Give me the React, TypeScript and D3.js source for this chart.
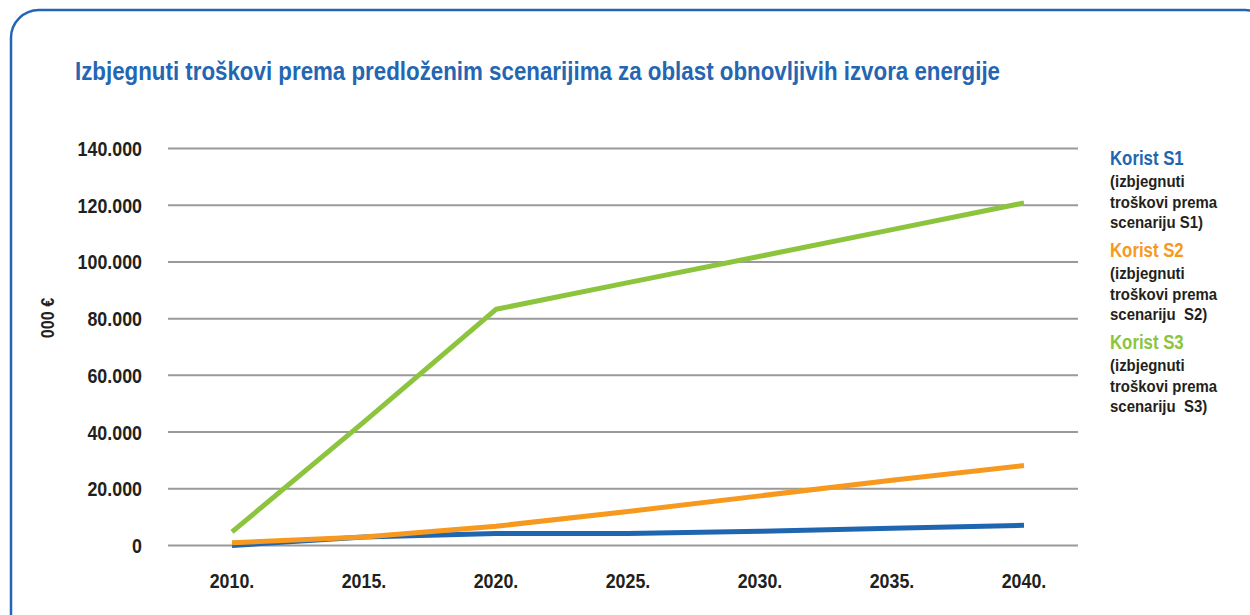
import React, { useEffect, useRef } from "react";
import * as d3 from "d3";

const years = [2010, 2015, 2020, 2025, 2030, 2035, 2040];
const yTicks = [0, 20000, 40000, 60000, 80000, 100000, 120000, 140000];

// 000 € po godinama
const koristS1 = [0, 3000, 4200, 4200, 5000, 6100, 7100];
const koristS2 = [1000, 3000, 6800, 12000, 17500, 23000, 28200];
const koristS3 = [4800, 43600, 83300, 92700, 102000, 111400, 120800];

const seriesNames = ["Korist S1", "Korist S2", "Korist S3"];
const seriesNotes = [
  ["(izbjegnuti", "troškovi prema", "scenariju S1)"],
  ["(izbjegnuti", "troškovi prema", "scenariju  S2)"],
  ["(izbjegnuti", "troškovi prema", "scenariju  S3)"],
];
const colors = ["#1f66b1", "#f7991f", "#8cc43e"];

const FONT = "'Liberation Sans', Arial, sans-serif";
const DARK = "#231f20";

// nema uskog fonta, pa tekst stisnemo po x
function narrowText(parent: any, x: number, y: number, str: string, size: number, sx: number, anchor: string, fill: string) {
  return parent
    .append("text")
    .attr("transform", `translate(${x}, ${y}) scale(${sx}, 1)`)
    .attr("text-anchor", anchor)
    .text(str)
    .style("white-space", "pre")
    .style("font-family", FONT)
    .style("font-weight", "bold")
    .style("font-size", `${size}px`)
    .attr("fill", fill);
}

export default function App() {
  const ref = useRef<SVGSVGElement>(null);

  useEffect(() => {
    const width = 1250;
    const height = 615;
    const svg = d3.select(ref.current).attr("width", width).attr("height", height);
    svg.selectAll("*").remove();

    // okvir
    svg
      .append("rect")
      .attr("x", 11)
      .attr("y", 10)
      .attr("width", 1262)
      .attr("height", 640)
      .attr("rx", 28)
      .attr("fill", "white")
      .attr("stroke", "#2466b2")
      .attr("stroke-width", 2.5);

    svg
      .append("text")
      .attr("x", 75)
      .attr("y", 80)
      .attr("textLength", 925)
      .attr("lengthAdjust", "spacingAndGlyphs")
      .text("Izbjegnuti troškovi prema predloženim scenarijima za oblast obnovljivih izvora energije")
      .style("font-family", FONT)
      .style("font-weight", "bold")
      .style("font-size", "25px")
      .attr("fill", "#2466b2");

    const x = d3.scaleLinear().domain([2010, 2040]).range([232, 1024]);
    const y = d3.scaleLinear().domain([0, 140000]).range([545.5, 148.5]);

    const fmt = d3.formatLocale({ decimal: ",", thousands: ".", grouping: [3], currency: ["", "€"] }).format(",d");

    svg
      .append("g")
      .selectAll("line")
      .data(yTicks)
      .join("line")
      .attr("x1", 168)
      .attr("x2", 1078)
      .attr("y1", (d) => y(d))
      .attr("y2", (d) => y(d))
      .attr("stroke", "#9a9a9c")
      .attr("stroke-width", 2);

    const yAxis = svg.append("g");
    yTicks.forEach((t) => narrowText(yAxis, 142, y(t) + 7.5, fmt(t), 21, 0.85, "end", DARK));

    const xAxis = svg.append("g");
    years.forEach((yr) => narrowText(xAxis, x(yr), 588, `${yr}.`, 21, 0.85, "middle", DARK));

    svg
      .append("text")
      .attr("transform", `translate(54, 318) rotate(-90) scale(0.9, 1)`)
      .attr("text-anchor", "middle")
      .text("000 €")
      .style("font-family", FONT)
      .style("font-weight", "bold")
      .style("font-size", "18px")
      .attr("fill", DARK);

    const line = d3
      .line<number>()
      .x((_, i) => x(years[i]))
      .y((d) => y(d));

    const allSeries = [koristS1, koristS3, koristS2];
    const colorOrder = [colors[0], colors[2], colors[1]];
    svg
      .append("g")
      .selectAll("path")
      .data(allSeries)
      .join("path")
      .attr("d", (d) => line(d))
      .attr("fill", "none")
      .attr("stroke", (_, i) => colorOrder[i])
      .attr("stroke-width", 5)
      .attr("stroke-linejoin", "round");

    const legend = svg.append("g");
    seriesNames.forEach((name, i) => {
      const top = 165 + i * 92;
      narrowText(legend, 1110, top, name, 21, 0.8, "start", colors[i]);
      seriesNotes[i].forEach((note, j) => narrowText(legend, 1110, top + 22 + j * 20.5, note, 17, 0.88, "start", DARK));
    });
  }, []);

  return <svg ref={ref} style={{ position: "absolute", left: 0, top: 0 }}></svg>;
}
